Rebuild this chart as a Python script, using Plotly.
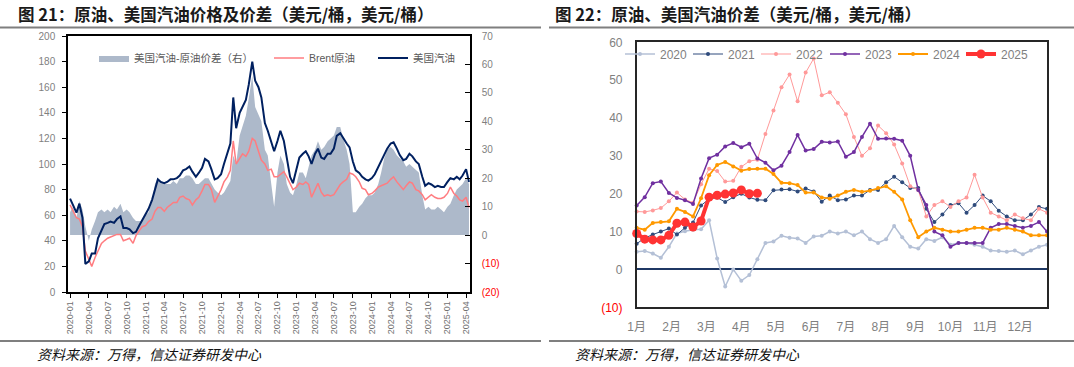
import plotly.graph_objects as go
import pandas as pd

W, H = 1074, 367

def fx(x):
    return x / W

def fy(y):
    return 1 - y / H

# ---------------- Left chart data (semi-monthly readings) ----------------
dates = pd.date_range("2020-01-01", "2025-04-15", freq="SMS").strftime("%Y-%m-%d").tolist()

gasoline = [
    73, 68, 62, 69, 58, 22, 24, 30, 30, 42, 48, 53, 54, 55, 54, 57, 59, 50, 50, 49, 46, 47, 52, 56,
    62, 65, 72, 80, 88, 86, 85, 86, 88, 88, 89, 91, 95, 96, 98, 94, 90, 93, 97, 104, 102, 96, 88, 89,
    92, 100, 108, 116, 152, 128, 140, 145, 150, 162, 180, 165, 160, 152, 132, 126, 118, 110, 118, 126, 118, 105, 90, 85,
    95, 105, 108, 110, 106, 100, 108, 112, 105, 104, 108, 108, 112, 122, 124, 120, 116, 113, 102, 95, 93, 90, 88, 87,
    89, 92, 98, 102, 108, 112, 116, 117, 112, 107, 103, 104, 108, 106, 102, 100, 90, 83, 85, 84, 82, 83, 82, 82,
    86, 89, 88, 90, 88, 91, 96, 86,
]

brent = [
    68, 64, 58, 57, 51, 32, 25, 20, 27, 32, 38, 40, 42, 43, 44, 45, 45, 40, 41, 42, 38, 44, 48, 51,
    52, 55, 57, 63, 66, 66, 63, 66, 68, 70, 70, 74, 75, 73, 72, 68, 72, 74, 79, 84, 84, 80, 70, 74,
    80, 86, 90, 95, 118, 100, 105, 108, 106, 110, 120, 118, 110, 103, 100, 95, 96, 90, 90, 92, 94, 90, 85, 80,
    82, 85, 84, 86, 84, 74, 80, 85, 78, 75, 76, 75, 76, 80, 84, 86, 88, 93, 92, 90, 86, 81, 80, 76,
    77, 79, 82, 83, 84, 85, 88, 90, 86, 83, 80, 83, 86, 85, 80, 79, 76, 72, 74, 76, 74, 73, 73, 74,
    77, 82, 77, 75, 72, 71, 74, 66,
]

spread = [
    8, 10, 6, 12, 9, 3, -2, 2, 5, 8, 9, 8, 9, 8, 10, 9, 11, 8, 9, 8, 6, 5, 5, 5,
    7, 8, 12, 18, 20, 19, 18, 18, 18, 19, 18, 20, 20, 21, 21, 20, 18, 18, 19, 20, 20, 18, 16, 15,
    14, 15, 17, 19, 28, 25, 35, 38, 42, 48, 56, 45, 42, 40, 30, 28, 18, 10, 22, 28, 25, 18, 15, 14,
    18, 22, 22, 20, 24, 28, 30, 33, 30, 31, 33, 34, 35, 38, 38, 34, 30, 25, 8, 8, 10, 11, 13, 14,
    14, 15, 18, 22, 27, 30, 31, 30, 28, 27, 26, 24, 25, 24, 23, 22, 14, 9, 10, 9, 9, 10, 9, 8,
    10, 11, 14, 16, 17, 18, 20, 18,
]

left_ticks = pd.date_range("2020-01-01", "2025-04-01", freq="3MS").strftime("%Y-%m-%d").tolist()
left_y_ticks = list(range(0, 201, 20))
right_y_ticks = list(range(-20, 71, 10))
right_y_text = ["(20)", "(10)", "0", "10", "20", "30", "40", "50", "60", "70"]

# ---------------- Right chart data (weekly spread by year) ----------------
months = ["1月", "2月", "3月", "4月", "5月", "6月", "7月", "8月", "9月", "10月", "11月", "12月"]
weeks = list(range(52))

y2020 = [4.7, 4.9, 4.2, 3.1, 6.0, 9.5, 10.1, 10.5, 10.6, 13.0, 2.9, -4.5, 0.0, -3.0, -1.5, 2.7,
         7.0, 7.4, 8.9, 8.4, 8.2, 7.0, 8.7, 8.9, 10, 9.5, 10, 9, 10, 8, 7, 8, 11.5, 8.5, 6, 5.5,
         8, 7.5, 8.5, 6.5, 7, 7, 6.5, 6, 5, 4.9, 4.7, 5, 4, 5, 6, 6.5]
y2021 = [6.8, 8.3, 9.2, 10.0, 10.8, 9.2, 11.0, 12.4, 16.9, 18.6, 19.0, 17.8, 19.1, 20.0, 19.0, 18.4,
         18.3, 20.9, 21.1, 21.2, 20.6, 21.4, 20.6, 17.9, 19.5, 18.3, 18.5, 19.5, 19.5, 21, 21, 23,
         24.5, 23, 21.5, 21.5, 16, 12.5, 14.5, 17, 17.5, 15, 17, 19.5, 18, 15.5, 14, 13, 13, 14.5, 16.5, 16]
y2022 = [15.3, 15.2, 15.6, 16.2, 18.0, 20.3, 18.5, 17.6, 22.5, 26.6, 26.0, 23.2, 23.4, 27.1, 28.6, 29.0,
         35.8, 42.0, 48.1, 51.5, 44.4, 52.0, 55.7, 46.0, 46.8, 44, 41, 35, 30, 32, 38, 36, 33, 28,
         22, 21, 14, 17, 18, 16.5, 18, 19, 25, 19, 15, 14, 13, 14.5, 13.5, 13, 16, 15]
y2023 = [16.9, 19.1, 22.8, 23.2, 20.2, 18.9, 18.3, 17.3, 24.0, 29.4, 30.3, 32.5, 33.4, 32.3, 33.2, 29.3,
         28.2, 26.2, 27.4, 31.0, 35.5, 31.4, 31.8, 33.7, 33.5, 33.8, 29.8, 31, 35, 38.5, 34.5, 34.6,
         34.5, 34, 30, 21, 17, 10, 9, 6, 7, 7, 7, 7, 11, 12, 12, 11.5, 11, 11.5, 12.5, 10]
y2024 = [11.0, 10.5, 12.3, 12.5, 12.7, 16.0, 15.2, 14.0, 18.8, 24.9, 27.6, 28.4, 27.2, 26.1, 26.5, 26.6,
         26.6, 25.2, 22.9, 22.8, 22.3, 20.3, 20.3, 19.0, 18.7, 19.5, 20.5, 21, 20.5, 20.8, 21.5, 22,
         20.5, 18.5, 13, 8.5, 10, 11, 10.5, 10, 10, 10.5, 11, 11, 10.5, 10.5, 11, 10.5, 10, 9, 9, 9]
y2025 = [9.5, 8.0, 7.8, 7.8, 9.0, 12.2, 12.5, 11.2, 12.8, 19.1, 19.6, 19.9, 20.2, 21.0, 20.0, 20.1]

week_ticks = [i * 52 / 12 for i in range(12)]
r_y_ticks = list(range(-10, 61, 10))
r_y_text = ["(10)", "0", "10", "20", "30", "40", "50", "60"]

RED = "#ff0000"
GRAY = "#7f7f7f"
FONT = "Liberation Sans, Arial, Noto Sans CJK SC, sans-serif"
CJK = "Noto Sans CJK SC, sans-serif"


def colored(txt):
    return f'<span style="color:{RED}">{txt}</span>' if txt.startswith("(") else txt


fig = go.Figure()

# Left chart
fig.add_trace(go.Scatter(x=dates, y=spread, mode="lines", fill="tozeroy", fillcolor="#adb9ca",
                         line=dict(width=0, color="#adb9ca"), name="美国汽油-原油价差（右）",
                         xaxis="x", yaxis="y", legend="legend"))
fig.add_trace(go.Scatter(x=dates, y=brent, mode="lines", line=dict(color="#ff7c80", width=1.5),
                         name="Brent原油", xaxis="x", yaxis="y2", legend="legend2"))
fig.add_trace(go.Scatter(x=dates, y=gasoline, mode="lines", line=dict(color="#002060", width=2),
                         name="美国汽油", xaxis="x", yaxis="y2", legend="legend3"))

# Right chart
series = [
    ("2020", y2020, "#b4c0d6", 1.5, 4),
    ("2021", y2021, "#2f4b7c", 1.0, 4),
    ("2022", y2022, "#ff9999", 1.0, 4),
    ("2023", y2023, "#7030a0", 1.5, 4),
    ("2024", y2024, "#ff9900", 1.8, 4),
    ("2025", y2025, "#ff3333", 4.0, 9),
]
for i, (nm, vals, col, lw, ms) in enumerate(series):
    fig.add_trace(go.Scatter(x=weeks[:len(vals)], y=vals, mode="lines+markers", name=nm,
                             line=dict(color=col, width=lw), marker=dict(color=col, size=ms),
                             cliponaxis=False, xaxis="x2", yaxis="y3", legend=f"legend{4 + i}"))

LX0, LX1 = fx(68), fx(470)
LY0, LY1 = fy(292), fy(36)
RX0, RX1 = fx(636.7), fx(1047)
RY0, RY1 = fy(307.3), fy(42.3)

fig.update_layout(
    width=W, height=H, autosize=False, showlegend=True,
    margin=dict(l=0, r=0, t=0, b=0, autoexpand=False),
    paper_bgcolor="white", plot_bgcolor="white",
    font=dict(family=FONT, color=GRAY),
    xaxis=dict(domain=[LX0, LX1], anchor="y", type="date",
               range=["2019-12-22", "2025-04-20"], tickvals=left_ticks, tickformat="%Y-%m",
               tickangle=-90, tickfont=dict(size=9, color="#6f6f6f"), ticks="outside", ticklen=4,
               tickcolor="black", showline=True, linecolor="black", linewidth=1.5, mirror=True,
               showgrid=False, zeroline=False, automargin=False),
    yaxis=dict(domain=[LY0, LY1], anchor="x", side="right", range=[-20, 70],
               tickvals=right_y_ticks, ticktext=[colored(t) for t in right_y_text],
               tickfont=dict(size=10, color=GRAY), ticks="inside", ticklen=5, tickcolor="black",
               showline=True, linecolor="black", linewidth=1.5, showgrid=False, zeroline=False,
               ticklabelstandoff=8, automargin=False),
    yaxis2=dict(anchor="x", overlaying="y", side="left", range=[0, 200], tickvals=left_y_ticks,
                tickfont=dict(size=10, color=GRAY), ticks="outside", ticklen=4, tickcolor="black",
                showline=True, linecolor="black", linewidth=1.5, showgrid=False, zeroline=False,
                ticklabelstandoff=5, automargin=False),
    xaxis2=dict(domain=[RX0, RX1], anchor="y3", range=[0, 51], tickvals=week_ticks, ticktext=months,
                tickfont=dict(size=12, color=GRAY), ticks="", showline=True, linecolor="#262626",
                linewidth=1.5, mirror=True, showgrid=False, zeroline=False, ticklabelstandoff=8,
                automargin=False),
    yaxis3=dict(domain=[RY0, RY1], anchor="x2", range=[-10, 60], tickvals=r_y_ticks,
                ticktext=[colored(t) for t in r_y_text], tickfont=dict(size=12, color=GRAY),
                ticks="", showline=True, linecolor="#262626", linewidth=1.5, mirror=True,
                showgrid=False, zeroline=True, zerolinecolor="#1f3864", zerolinewidth=1.5,
                ticklabelstandoff=10, automargin=False),
)

leg_common = dict(orientation="h", xanchor="left", yanchor="middle", bgcolor="rgba(0,0,0,0)",
                  borderwidth=0, itemwidth=30, visible=True)
left_leg_x = [99, 274, 378]
for i, x in enumerate(left_leg_x):
    key = "legend" if i == 0 else f"legend{i + 1}"
    fig.update_layout({key: dict(leg_common, x=fx(x - 5), y=fy(58),
                                 font=dict(size=10.5, color="#595959", family=FONT))})
right_leg_x = [625, 693, 761, 830, 898, 966]
for i, x in enumerate(right_leg_x):
    fig.update_layout({f"legend{4 + i}": dict(leg_common, x=fx(x - 5), y=fy(54),
                                             font=dict(size=12, color=GRAY, family=FONT))})

# Titles, rules and source notes
TITLE_Y = 14.5
fig.add_annotation(text="<b>图 21：原油、美国汽油价格及价差（美元/桶，美元/桶）</b>", xref="paper", yref="paper",
                   x=fx(16), y=fy(TITLE_Y), xanchor="left", yanchor="middle", showarrow=False,
                   font=dict(size=16.5, color="#1a1a1a", family=CJK))
fig.add_annotation(text="<b>图 22：原油、美国汽油价差（美元/桶，美元/桶）</b>", xref="paper", yref="paper",
                   x=fx(553), y=fy(TITLE_Y), xanchor="left", yanchor="middle", showarrow=False,
                   font=dict(size=16.5, color="#1a1a1a", family=CJK))
for x in (35, 573):
    fig.add_annotation(text="<i>资料来源：万得，信达证券研发中心</i>", xref="paper", yref="paper",
                       x=fx(x), y=fy(354), xanchor="left", yanchor="middle", showarrow=False,
                       font=dict(size=14, color="#111111", family=CJK))
for (a, b) in ((0, 541), (549, 1074)):
    for yy in (27.5, 341):
        fig.add_shape(type="line", xref="paper", yref="paper", x0=fx(a), x1=fx(b), y0=fy(yy), y1=fy(yy),
                      line=dict(color="#7f7f7f", width=2))

# Remove the browser's default 8px page margin so the figure fills the window exactly.
fig.write_html("out.html", config={"displayModeBar": False},
               post_script="document.body.style.margin='0';")
